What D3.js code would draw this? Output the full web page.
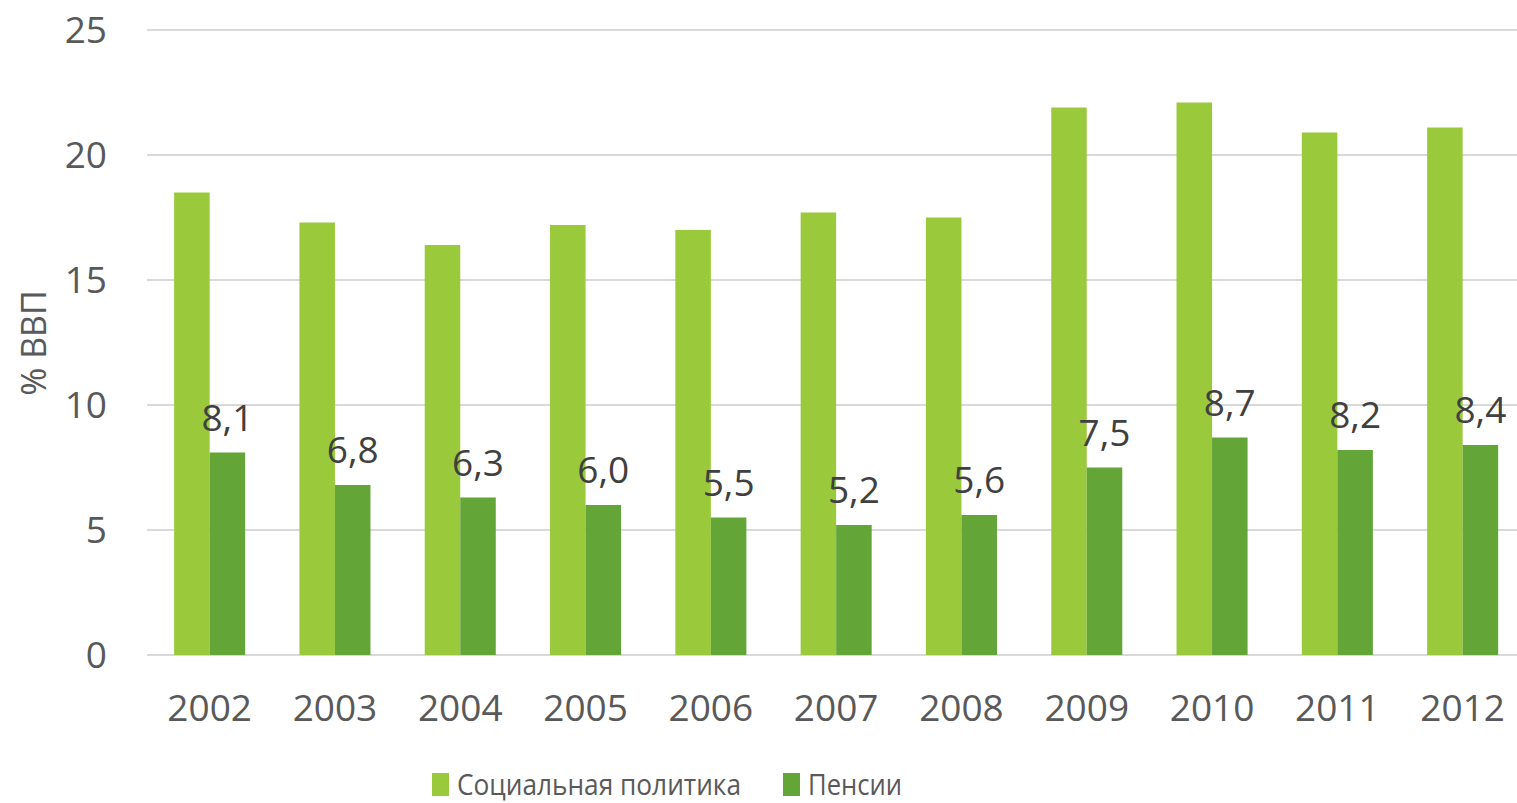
<!DOCTYPE html>
<html>
<head>
<meta charset="utf-8">
<script src="https://d3js.org/d3.v7.min.js"></script>
<style>
  body { margin: 0; background: #fff; }
  text { font-family: "Open Sans", sans-serif; }
</style>
</head>
<body>
<svg id="chart" width="1517" height="803"></svg>
<script>
var years = ['2002', '2003', '2004', '2005', '2006', '2007', '2008', '2009', '2010', '2011', '2012'];
var social = [18.5, 17.3, 16.4, 17.2, 17.0, 17.7, 17.5, 21.9, 22.1, 20.9, 21.1];
var pensions = [8.1, 6.8, 6.3, 6.0, 5.5, 5.2, 5.6, 7.5, 8.7, 8.2, 8.4];
var yTicks = [0, 5, 10, 15, 20, 25];
var seriesNames = ['Социальная политика', 'Пенсии'];
var colors = ['#9aca3c', '#63a537'];

var svg = d3.select('#chart'),
    margin = {top: 30, left: 147},
    height = 625,
    step = 125.3,
    g = svg.append('g')
          .attr('transform', `translate(${margin.left}, ${margin.top})`);

var x = d3.scaleBand().domain(years).range([0, step * years.length])
          .paddingInner(0.433).paddingOuter(0.433 / 2),
    x1 = d3.scaleBand().domain([0, 1]).range([0, x.bandwidth()]),
    y = d3.scaleLinear().domain([0, 25]).range([height, 0]);

// gridlines
g.append('g')
  .selectAll('line')
  .data(yTicks)
  .join('line')
    .attr('x1', 0)
    .attr('x2', 1400)
    .attr('y1', d => y(d))
    .attr('y2', d => y(d))
    .attr('stroke', '#d9d9d9')
    .attr('stroke-width', 2);

// y tick labels
var yAxis = g.append('g')
  .call(d3.axisLeft(y).tickValues(yTicks).tickSize(0).tickPadding(40));
yAxis.select('.domain').remove();
yAxis.selectAll('text')
  .attr('fill', '#595959')
  .style('font-size', '37px')
  .attr('dy', '0.35em');

// x tick labels
var xAxis = g.append('g')
  .attr('transform', `translate(0, ${height})`)
  .call(d3.axisBottom(x).tickSize(0).tickPadding(40));
xAxis.select('.domain').remove();
xAxis.selectAll('text')
  .attr('fill', '#595959')
  .style('font-size', '37px');

var rows = years.map((yr, i) => ({year: yr, values: [social[i], pensions[i]]}));

var groups = g.append('g')
  .selectAll('g')
  .data(rows)
  .join('g')
    .attr('transform', d => `translate(${x(d.year)}, 0)`);

groups.selectAll('rect')
  .data(d => d.values)
  .join('rect')
    .attr('x', (d, i) => x1(i))
    .attr('y', d => y(d))
    .attr('width', x1.bandwidth())
    .attr('height', d => height - y(d))
    .attr('fill', (d, i) => colors[i]);

// data labels on pensions
groups.append('text')
  .attr('x', x1(1) + x1.bandwidth() / 2)
  .attr('y', d => y(d.values[1]) - 22)
  .attr('text-anchor', 'middle')
  .attr('fill', '#404040')
  .style('font-size', '37px')
  .text(d => d3.format('.1f')(d.values[1]).replace('.', ','));

// y axis title
svg.append('text')
  .attr('transform', 'translate(46, 343) rotate(-90)')
  .attr('text-anchor', 'middle')
  .attr('fill', '#595959')
  .style('font-size', '34px')
  .text('% ВВП');

// legend
var legend = svg.append('g').attr('transform', 'translate(432, 773)');
var legendX = [0, 351];
seriesNames.forEach((name, i) => {
  var item = legend.append('g').attr('transform', `translate(${legendX[i]}, 0)`);
  item.append('rect')
    .attr('width', 17)
    .attr('height', 23)
    .attr('fill', colors[i]);
  item.append('text')
    .attr('x', 25)
    .attr('y', 22)
    .attr('fill', '#595959')
    .style('font-size', '29px')
    .attr('textLength', i === 0 ? 284 : 94)
    .attr('lengthAdjust', 'spacingAndGlyphs')
    .text(name);
});
</script>
</body>
</html>
